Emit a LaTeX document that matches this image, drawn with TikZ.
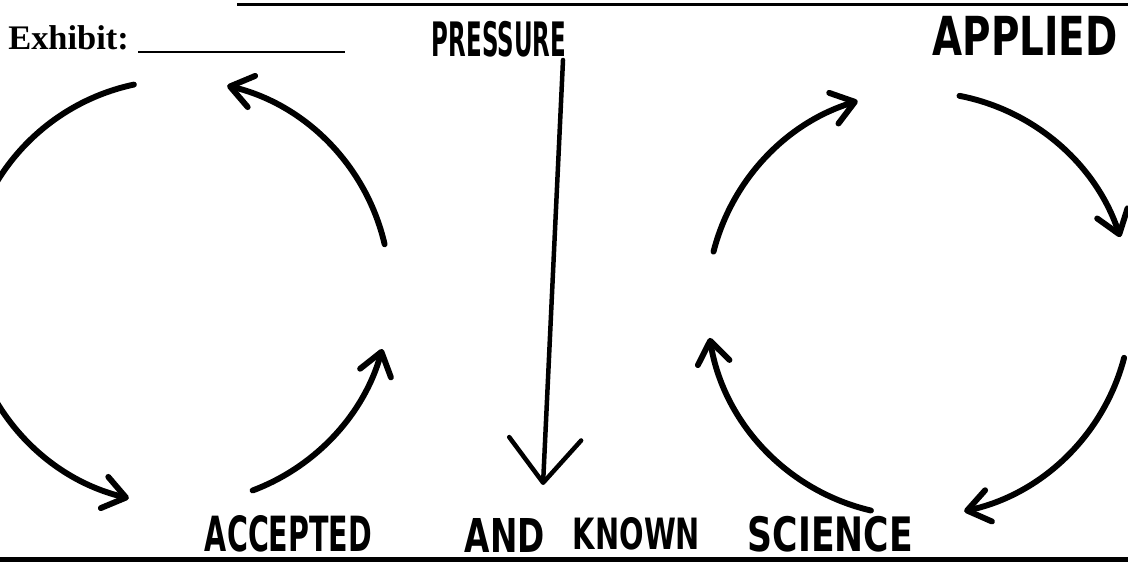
\documentclass[tikz,border=0pt]{standalone}
\usepackage{fontspec}
\usepackage{graphicx}
\usetikzlibrary{arrows.meta}
\newfontfamily\exfont{Liberation Serif}
\newfontfamily\handfont{DejaVu Sans}
\newcommand{\handword}[3]{\resizebox{#1}{#2}{\handfont\bfseries #3}}
\tikzset{
  cycline/.style={line width=4.2pt, line cap=round},
  cyctip/.style={-{Straight Barb[length=0.55cm,width=0.8cm,round]}},
  presstip/.style={line width=3.2pt, line cap=round, -{Straight Barb[length=1.1cm,width=1.8cm,round]}},
  hand/.style={inner sep=0pt},
  rule/.style={line width=#1}
}
\begin{document}
\begin{tikzpicture}[x=0.025cm, y=0.025cm]
\useasboundingbox (0,0) rectangle (1128,565);
\clip (0,0) rectangle (1128,565);
\coordinate (topl) at (237,560.5);
\coordinate (topr) at (1128,560.5);
\coordinate (botl) at (0,5.5);
\coordinate (botr) at (1128,5.5);
\coordinate (blankl) at (138,513);
\coordinate (blankr) at (345,513);
\draw[rule=2pt] (topl) -- (topr);
\draw[rule=3.5pt] (botl) -- (botr);
\node[anchor=base west, inner sep=0pt, font=\exfont\bfseries\fontsize{24.5}{28}\selectfont] (exhibit) at (8,515) {Exhibit:};
\draw[rule=1.6pt] (blankl) -- (blankr);
\node[hand] (pressure) at (499,526) {\handword{3.35cm}{0.88cm}{PRESSURE}};
\node[hand] (applied) at (1025,529) {\handword{4.625cm}{0.98cm}{APPLIED}};
\node[hand] (accepted) at (288.5,31) {\handword{4.175cm}{0.9cm}{ACCEPTED}};
\node[hand] (and) at (505,30) {\handword{2.0cm}{0.85cm}{AND}};
\node[hand] (known) at (636.5,31) {\handword{3.175cm}{0.8cm}{KNOWN}};
\node[hand] (science) at (830.5,31) {\handword{4.125cm}{0.88cm}{SCIENCE}};
\coordinate (lc) at (178,273);
\coordinate (rc) at (919,261);
\draw[cycline] ([shift={(102:5.3cm)}]lc) arc[start angle=102, end angle=170, radius=5.3cm];
\draw[cycline, cyctip] ([shift={(13:5.3cm)}]lc) arc[start angle=13, end angle=76.6, radius=5.3cm];
\draw[cycline, cyctip] ([shift={(-69.4:5.3cm)}]lc) arc[start angle=-69.4, end angle=-15.6, radius=5.3cm];
\draw[cycline, cyctip] ([shift={(190:5.3cm)}]lc) arc[start angle=190, end angle=256.6, radius=5.3cm];
\draw[cycline, cyctip] ([shift={(165.7:5.3cm)}]rc) arc[start angle=165.7, end angle=106.8, radius=5.3cm];
\draw[cycline, cyctip] ([shift={(79:5.3cm)}]rc) arc[start angle=79, end angle=18.4, radius=5.3cm];
\draw[cycline, cyctip] ([shift={(-14.7:5.3cm)}]rc) arc[start angle=-14.7, end angle=-77.7, radius=5.3cm];
\draw[cycline, cyctip] ([shift={(256.9:5.3cm)}]rc) arc[start angle=256.9, end angle=189.2, radius=5.3cm];
\coordinate (ptop) at (563,505);
\coordinate (pbot) at (543,80);
\draw[presstip] (ptop) -- (pbot);
\end{tikzpicture}
\end{document}
